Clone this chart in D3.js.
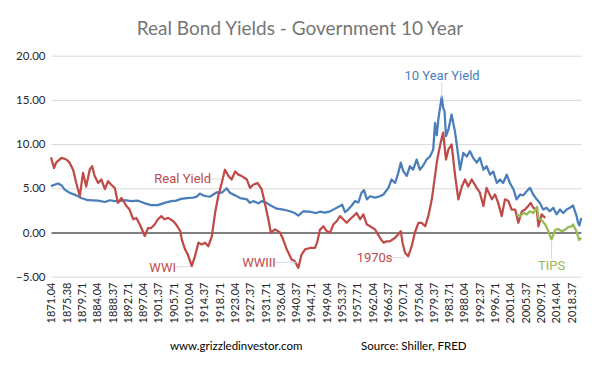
<!DOCTYPE html>
<html>
<head>
<meta charset="utf-8">
<script src="https://cdn.jsdelivr.net/npm/d3@7"></script>
<style>
  body { margin: 0; background: #fff; }
  svg text { font-family: Lato, "Open Sans", sans-serif; }
</style>
</head>
<body>
<div id="chart"></div>
<script>
// category labels shown on the x axis (Shiller date fractions, every 52 months)
var xLabels = ['1871.04','1875.38','1879.71','1884.04','1888.37','1892.71','1897.04','1901.37',
  '1905.71','1910.04','1914.37','1918.71','1923.04','1927.37','1931.71','1936.04','1940.37',
  '1944.71','1949.04','1953.37','1957.71','1962.04','1966.37','1970.71','1975.04','1979.37',
  '1983.71','1988.04','1992.37','1996.71','2001.04','2005.37','2009.71','2014.04','2018.37'];
var yTicks = [-5, 0, 5, 10, 15, 20];

// [date, yield %]
var tenYear = [
  [1871.04,5.25],[1873.0,5.55],[1874.0,5.35],[1874.9,4.85],[1876.3,4.5],[1878.2,4.2],[1879.6,3.9],
  [1881.5,3.65],[1884.4,3.6],[1886.3,3.45],[1887.7,3.65],[1889.1,3.55],[1890.5,3.55],[1891.9,3.65],
  [1893.8,3.55],[1895.7,3.6],[1897.6,3.3],[1899.4,3.1],[1901.3,3.1],[1903.2,3.35],[1905.1,3.55],
  [1906.5,3.6],[1907.9,3.8],[1909.5,3.9],[1911.3,3.95],[1912.3,4.05],[1913.2,4.4],[1914.1,4.2],
  [1915.1,4.1],[1916.1,4.05],[1917.0,4.3],[1918.0,4.55],[1919.4,4.5],[1920.8,5.0],[1921.7,4.5],
  [1923.2,4.2],[1924.6,3.9],[1926.5,3.75],[1927.4,3.35],[1928.3,3.55],[1929.8,3.3],[1930.7,3.55],
  [1932.1,3.35],[1933.5,3.0],[1935.0,2.7],[1936.8,2.6],[1938.7,2.4],[1940.1,2.2],[1941.1,1.9],
  [1942.5,2.4],[1944.4,2.35],[1946.1,2.2],[1947.2,2.35],[1948.6,2.25],[1950.1,2.4],[1951.5,2.7],
  [1952.9,3.0],[1953.5,3.15],[1954.3,2.3],[1955.2,2.6],[1956.1,3.0],[1957.1,3.55],[1958.1,3.4],
  [1959.0,4.5],[1959.7,4.8],[1960.5,3.75],[1961.4,4.1],[1962.8,3.95],[1964.2,4.1],[1965.2,4.3],
  [1966.6,5.05],[1967.5,6.0],[1968.5,5.6],[1969.4,6.75],[1970.1,7.9],[1970.8,6.95],[1971.8,6.4],
  [1972.7,7.5],[1973.6,7.1],[1974.6,8.25],[1975.5,7.1],[1976.5,7.6],[1977.4,8.25],[1978.4,8.6],
  [1979.3,9.4],[1979.8,12.4],[1980.3,11.0],[1980.8,13.0],[1981.3,14.3],[1981.7,15.4],[1982.1,14.1],
  [1982.5,13.7],[1982.9,10.9],[1983.6,11.65],[1984.5,13.35],[1985.5,11.3],[1986.4,8.6],[1986.9,7.1],
  [1987.8,9.0],[1988.8,8.6],[1989.7,9.2],[1990.6,8.45],[1991.6,7.9],[1992.5,8.45],[1993.5,7.1],
  [1994.4,7.5],[1995.4,6.55],[1996.3,6.9],[1997.3,5.6],[1998.2,6.0],[1999.1,5.6],[2000.1,6.55],
  [2001.0,5.6],[2002.0,4.9],[2002.9,3.75],[2003.9,4.3],[2004.8,4.2],[2005.8,4.7],[2006.7,5.05],
  [2007.6,4.3],[2008.6,3.75],[2009.5,3.35],[2010.4,2.6],[2011.4,2.8],[2012.3,2.4],[2013.3,2.8],
  [2014.2,2.05],[2015.2,2.6],[2016.1,2.2],[2017.1,2.6],[2018.0,2.8],[2018.9,3.05],[2019.9,1.85],
  [2020.3,1.1],[2020.7,0.8],[2021.2,1.65]
];

var realYield = [
  [1871.04,8.5],[1871.9,7.3],[1872.5,7.9],[1874.0,8.45],[1875.4,8.26],[1876.3,7.9],[1877.3,7.1],
  [1878.2,5.6],[1879.2,4.1],[1880.1,6.75],[1881.0,5.2],[1882.0,7.1],[1882.7,7.5],[1883.4,6.4],
  [1884.4,5.6],[1885.3,6.0],[1886.3,4.9],[1887.2,5.8],[1888.1,5.4],[1889.1,5.05],[1890.0,3.35],
  [1891.0,3.9],[1892.4,3.0],[1893.3,2.6],[1894.3,1.5],[1895.2,1.65],[1896.2,0.9],[1897.6,-0.4],
  [1898.5,0.5],[1899.4,0.5],[1900.4,0.9],[1901.3,1.5],[1902.3,1.85],[1903.2,1.5],[1904.2,1.65],
  [1905.6,1.3],[1906.5,0.9],[1907.6,0.2],[1908.1,-0.8],[1909.0,-1.9],[1909.8,-2.5],[1910.9,-3.8],
  [1911.8,-2.7],[1912.8,-1.15],[1913.7,-1.35],[1914.7,-1.15],[1915.6,-1.55],[1916.6,-0.4],
  [1917.5,2.2],[1918.4,4.1],[1919.4,5.6],[1920.3,7.1],[1921.3,6.4],[1922.2,6.0],[1923.2,6.9],
  [1924.1,6.55],[1925.0,6.4],[1926.5,6.0],[1927.4,5.05],[1928.3,5.4],[1929.5,5.6],[1930.7,4.9],
  [1931.6,3.35],[1932.6,1.5],[1933.3,0.0],[1934.5,0.35],[1935.9,0.0],[1936.8,-0.8],[1937.8,-1.9],
  [1939.2,-3.05],[1940.1,-3.25],[1941.1,-4.0],[1942.0,-2.5],[1943.0,-1.9],[1944.4,-1.75],
  [1945.8,-1.75],[1946.5,-1.0],[1947.2,0.3],[1948.2,0.7],[1949.1,0.15],[1950.1,0.0],[1951.0,0.9],
  [1952.0,1.3],[1952.9,1.85],[1953.8,1.5],[1954.8,1.1],[1955.7,1.5],[1956.7,1.85],[1957.6,2.2],
  [1958.6,1.5],[1959.5,2.05],[1960.5,0.9],[1961.4,0.7],[1962.8,0.35],[1964.2,-0.6],[1965.2,-1.15],
  [1966.1,-1.0],[1967.0,-1.0],[1968.5,-0.6],[1969.4,-0.2],[1970.1,0.15],[1970.6,-1.15],
  [1971.3,-2.3],[1972.2,-2.7],[1973.2,-1.55],[1974.1,0.0],[1975.1,1.1],[1976.0,1.1],[1977.0,0.7],
  [1977.9,1.85],[1978.9,3.75],[1979.8,6.4],[1980.3,7.9],[1980.7,8.8],[1981.4,10.15],[1982.1,11.3],
  [1982.9,8.25],[1983.6,9.4],[1984.5,9.95],[1985.5,6.4],[1986.4,3.75],[1987.4,5.2],[1988.3,6.0],
  [1989.2,5.2],[1990.2,6.0],[1991.6,5.05],[1992.5,4.5],[1993.5,3.0],[1994.4,5.05],[1995.9,3.75],
  [1996.8,4.3],[1997.7,3.35],[1998.7,1.85],[1999.6,3.75],[2000.6,3.55],[2001.5,2.6],[2002.5,2.6],
  [2003.4,1.1],[2004.4,2.4],[2005.3,2.6],[2006.2,3.0],[2006.9,3.35],[2007.6,2.8],[2008.6,2.6],
  [2009.1,0.7],[2010.0,2.05],[2011.0,1.65]
];

var tips = [
  [2002.9,2.05],[2003.9,1.85],[2004.8,2.2],[2005.8,2.05],[2006.7,2.4],[2007.6,2.2],[2008.7,2.9],
  [2009.1,1.6],[2010.0,1.4],[2011.0,0.9],[2011.9,0.15],[2012.8,-0.8],[2013.8,0.3],[2014.7,0.4],
  [2015.6,0.15],[2016.6,0.3],[2017.5,0.6],[2018.5,0.7],[2018.9,0.9],[2019.9,0.1],[2020.6,-0.85],
  [2021.2,-0.6]
];

var width = 600, height = 371;

var svg = d3.select("#chart")
  .append("svg")
    .attr("width", width)
    .attr("height", height);

var x = d3.scaleLinear()
  .domain([1871.04, 2021.2])
  .range([51, 581.2]);

var y = d3.scaleLinear()
  .domain([-5, 20])
  .range([276.7, 55.7]);

// title
svg.append("text")
    .attr("x", 300)
    .attr("y", 35)
    .attr("text-anchor", "middle")
    .style("font-size", "19px")
    .style("fill", "#767676")
    .text("Real Bond Yields - Government 10 Year");

// horizontal gridlines + y labels
var yAxis = svg.append("g")
    .attr("transform", "translate(51.5,0)")
    .call(d3.axisLeft(y).tickValues(yTicks).tickFormat(d3.format(".2f")).tickSize(-530).tickPadding(6));
yAxis.select(".domain").remove();
yAxis.selectAll(".tick line")
    .attr("stroke", function(d) { return d === 0 ? "#000" : "#d9d9d9"; })
    .attr("stroke-width", 1);
yAxis.selectAll(".tick text")
    .style("font-size", "11.5px")
    .style("fill", "#262626")
    .style("font-family", "Lato, sans-serif");

// x labels, rotated
var xAxis = svg.append("g")
    .attr("transform", "translate(0," + 278 + ")")
    .call(d3.axisBottom(x).tickValues(xLabels.map(Number)).tickSize(0)
      .tickFormat(function(d, i) { return xLabels[i]; }));
xAxis.select(".domain").remove();
xAxis.selectAll(".tick text")
    .attr("transform", "rotate(-90)")
    .attr("text-anchor", "end")
    .attr("x", -4.5)
    .attr("y", 0)
    .attr("dy", "0.35em")
    .style("font-size", "11px")
    .style("fill", "#262626")
    .style("font-family", "Lato, sans-serif");

var line = d3.line()
  .x(function(d) { return x(d[0]); })
  .y(function(d) { return y(d[1]); });

var series = [
  { data: tenYear, color: "#4a7ebb" },
  { data: realYield, color: "#be4b48" },
  { data: tips, color: "#98b954" }
];

svg.append("g").selectAll("path")
  .data(series)
  .enter()
  .append("path")
    .attr("d", function(d) { return line(d.data); })
    .attr("fill", "none")
    .attr("stroke", function(d) { return d.color; })
    .attr("stroke-width", 2.25)
    .attr("stroke-linejoin", "round");

// annotations: text anchored at [date, value]; leader from/to in data units
var notes = [
  { text: "Real Yield", at: [1900.3, 5.6], color: "#be4b48", lead: [[1915.5, 6.05], [1919.4, 6.05]] },
  { text: "WWI", at: [1898.9, -4.43], color: "#be4b48", lead: [[1906.6, -3.87], [1910.4, -3.87]] },
  { text: "WWIII", at: [1925.2, -3.87], color: "#be4b48", lead: [[1934.5, -3.37], [1940.6, -3.37]] },
  { text: "1970s", at: [1957.6, -3.3], color: "#be4b48", lead: [[1967.5, -2.85], [1970.9, -2.85]] },
  { text: "10 Year Yield", at: [1981.8, 17.25], color: "#4a7ebb", anchor: "middle", lead: [[1981.7, 17.0], [1981.7, 15.2]] },
  { text: "TIPS", at: [2012.8, -4.24], color: "#98b954", anchor: "middle", lead: [[2012.8, -0.85], [2012.8, -3.0]] }
];

var ann = svg.append("g");
ann.selectAll("line")
  .data(notes)
  .enter()
  .append("line")
    .attr("x1", function(d) { return x(d.lead[0][0]); })
    .attr("y1", function(d) { return y(d.lead[0][1]); })
    .attr("x2", function(d) { return x(d.lead[1][0]); })
    .attr("y2", function(d) { return y(d.lead[1][1]); })
    .attr("stroke", "#d9d9d9")
    .attr("stroke-width", 1);
ann.selectAll("text")
  .data(notes)
  .enter()
  .append("text")
    .attr("x", function(d) { return x(d.at[0]); })
    .attr("y", function(d) { return y(d.at[1]); })
    .attr("text-anchor", function(d) { return d.anchor || "start"; })
    .style("font-family", "Roboto, sans-serif")
    .style("font-size", "13px")
    .style("fill", function(d) { return d.color; })
    .text(function(d) { return d.text; });

// footer
svg.append("text")
    .attr("x", 170).attr("y", 350)
    .style("font-size", "11.5px").style("fill", "#000")
    .text("www.grizzledinvestor.com");
svg.append("text")
    .attr("x", 361).attr("y", 350)
    .style("font-size", "11.5px").style("fill", "#000")
    .text("Source: Shiller, FRED");
</script>
</body>
</html>
